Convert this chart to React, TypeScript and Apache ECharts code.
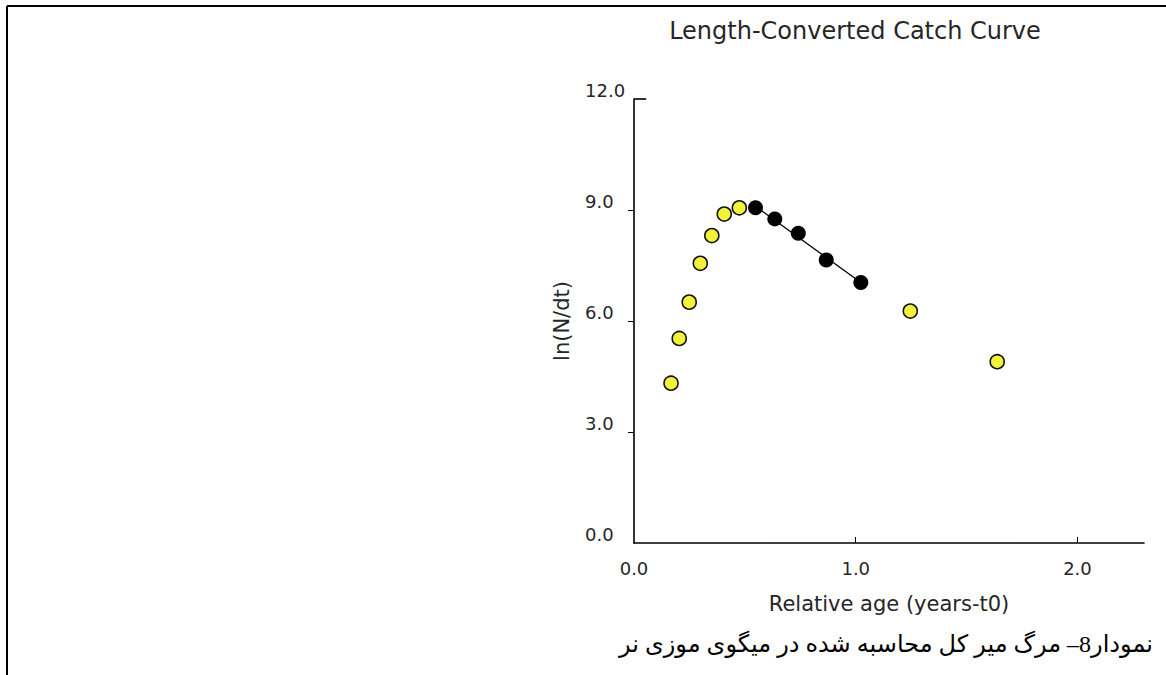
import React, { useEffect, useRef } from "react";
import * as echarts from "echarts";

// Yellow (excluded) points: relative age, ln(N/dt)
const excludedAge = [0.167, 0.204, 0.249, 0.299, 0.351, 0.407, 0.475, 1.246, 1.638];
const excludedLn = [4.32, 5.53, 6.51, 7.56, 8.31, 8.89, 9.06, 6.27, 4.9];

// Black (used in regression) points
const usedAge = [0.548, 0.635, 0.741, 0.867, 1.023];
const usedLn = [9.06, 8.76, 8.37, 7.65, 7.04];

// Regression line end points
const fitAge = [0.548, 1.023];
const fitLn = [9.1, 7.04];

const xTickLabels = [0, 1, 2];
const yTickLabels = [0, 3, 6, 9, 12];

const titleText = "Length-Converted Catch Curve";
const xName = "Relative age (years-t0)";
const yName = "ln(N/dt)";
const caption = "نمودار8– مرگ میر کل محاسبه شده در میگوی موزی نر";

export default function App() {
  const ref = useRef<HTMLDivElement>(null);
  useEffect(() => {
    if (!ref.current) return;
    const chart = echarts.init(ref.current, null, { renderer: "svg" });
    const font = "'DejaVu Sans', Verdana, sans-serif";
    const txt = "#262626";
    chart.setOption({
      animation: false,
      backgroundColor: "#ffffff",
      title: {
        text: titleText,
        left: 850,
        top: 14,
        textAlign: "center",
        textStyle: { fontFamily: font, fontSize: 24, fontWeight: "normal", color: txt },
      },
      grid: { left: 634, top: 99, right: 22, bottom: 132, containLabel: false },
      xAxis: {
        type: "value",
        min: 0,
        max: 2.3,
        interval: 1,
        name: xName,
        nameLocation: "middle",
        nameGap: 50,
        nameTextStyle: { fontFamily: font, fontSize: 21, color: txt },
        axisLine: { show: true, onZero: false, lineStyle: { color: "#000", width: 1.6 } },
        axisTick: { show: true, inside: true, length: 6, lineStyle: { color: "#000" }, customValues: [1, 2] },
        axisLabel: {
          customValues: xTickLabels,
          formatter: (v: number) => v.toFixed(1),
          fontFamily: font,
          fontSize: 18,
          color: txt,
          margin: 16,
        },
        splitLine: { show: false },
      },
      yAxis: {
        type: "value",
        min: 0,
        max: 12,
        interval: 3,
        name: yName,
        nameLocation: "middle",
        nameGap: 62,
        nameRotate: 90,
        nameTextStyle: { fontFamily: font, fontSize: 21, color: txt },
        axisLine: { show: true, onZero: false, lineStyle: { color: "#000", width: 1.6 } },
        axisTick: { show: true, inside: false, length: 6, lineStyle: { color: "#000" }, customValues: [3, 6, 9] },
        axisLabel: {
          customValues: yTickLabels,
          formatter: (v: number) => v.toFixed(1),
          fontFamily: font,
          fontSize: 18,
          color: txt,
          margin: 49,
          align: "left",
          verticalAlign: "bottom",
        },
        splitLine: { show: false },
      },
      series: [
        {
          type: "line",
          data: fitAge.map((x, i) => [x, fitLn[i]]),
          showSymbol: false,
          symbol: "none",
          lineStyle: { color: "#000", width: 1.3 },
          z: 1,
          markLine: {
            silent: true,
            symbol: "none",
            label: { show: false },
            lineStyle: { color: "#000", width: 1.6, type: "solid" },
            data: [[{ coord: [0, 12] }, { coord: [0.055, 12] }]],
          },
        },
        {
          type: "scatter",
          data: excludedAge.map((x, i) => [x, excludedLn[i]]),
          symbol: "circle",
          symbolSize: 14,
          itemStyle: { color: "#f2f23a", borderColor: "#111", borderWidth: 1.6, opacity: 1 },
          z: 3,
        },
        {
          type: "scatter",
          data: usedAge.map((x, i) => [x, usedLn[i]]),
          symbol: "circle",
          symbolSize: 15,
          itemStyle: { color: "#000", borderColor: "#000", borderWidth: 0, opacity: 1 },
          z: 4,
        },
      ],
      graphic: [
        { type: "line", shape: { x1: 7, y1: 6, x2: 1166, y2: 6 }, style: { stroke: "#000", lineWidth: 2 } },
        { type: "line", shape: { x1: 7, y1: 6, x2: 7, y2: 675 }, style: { stroke: "#000", lineWidth: 2 } },
        {
          type: "text",
          x: 1153,
          y: 644,
          style: {
            text: caption,
            textAlign: "right",
            textVerticalAlign: "middle",
            font: "24px 'Liberation Serif', 'DejaVu Sans', serif",
            fill: "#000",
          },
        },
      ],
    });
    return () => chart.dispose();
  }, []);
  return (
    <div
      ref={ref}
      style={{ position: "fixed", left: 0, top: 0, width: 1166, height: 675, background: "#fff" }}
    />
  );
}
